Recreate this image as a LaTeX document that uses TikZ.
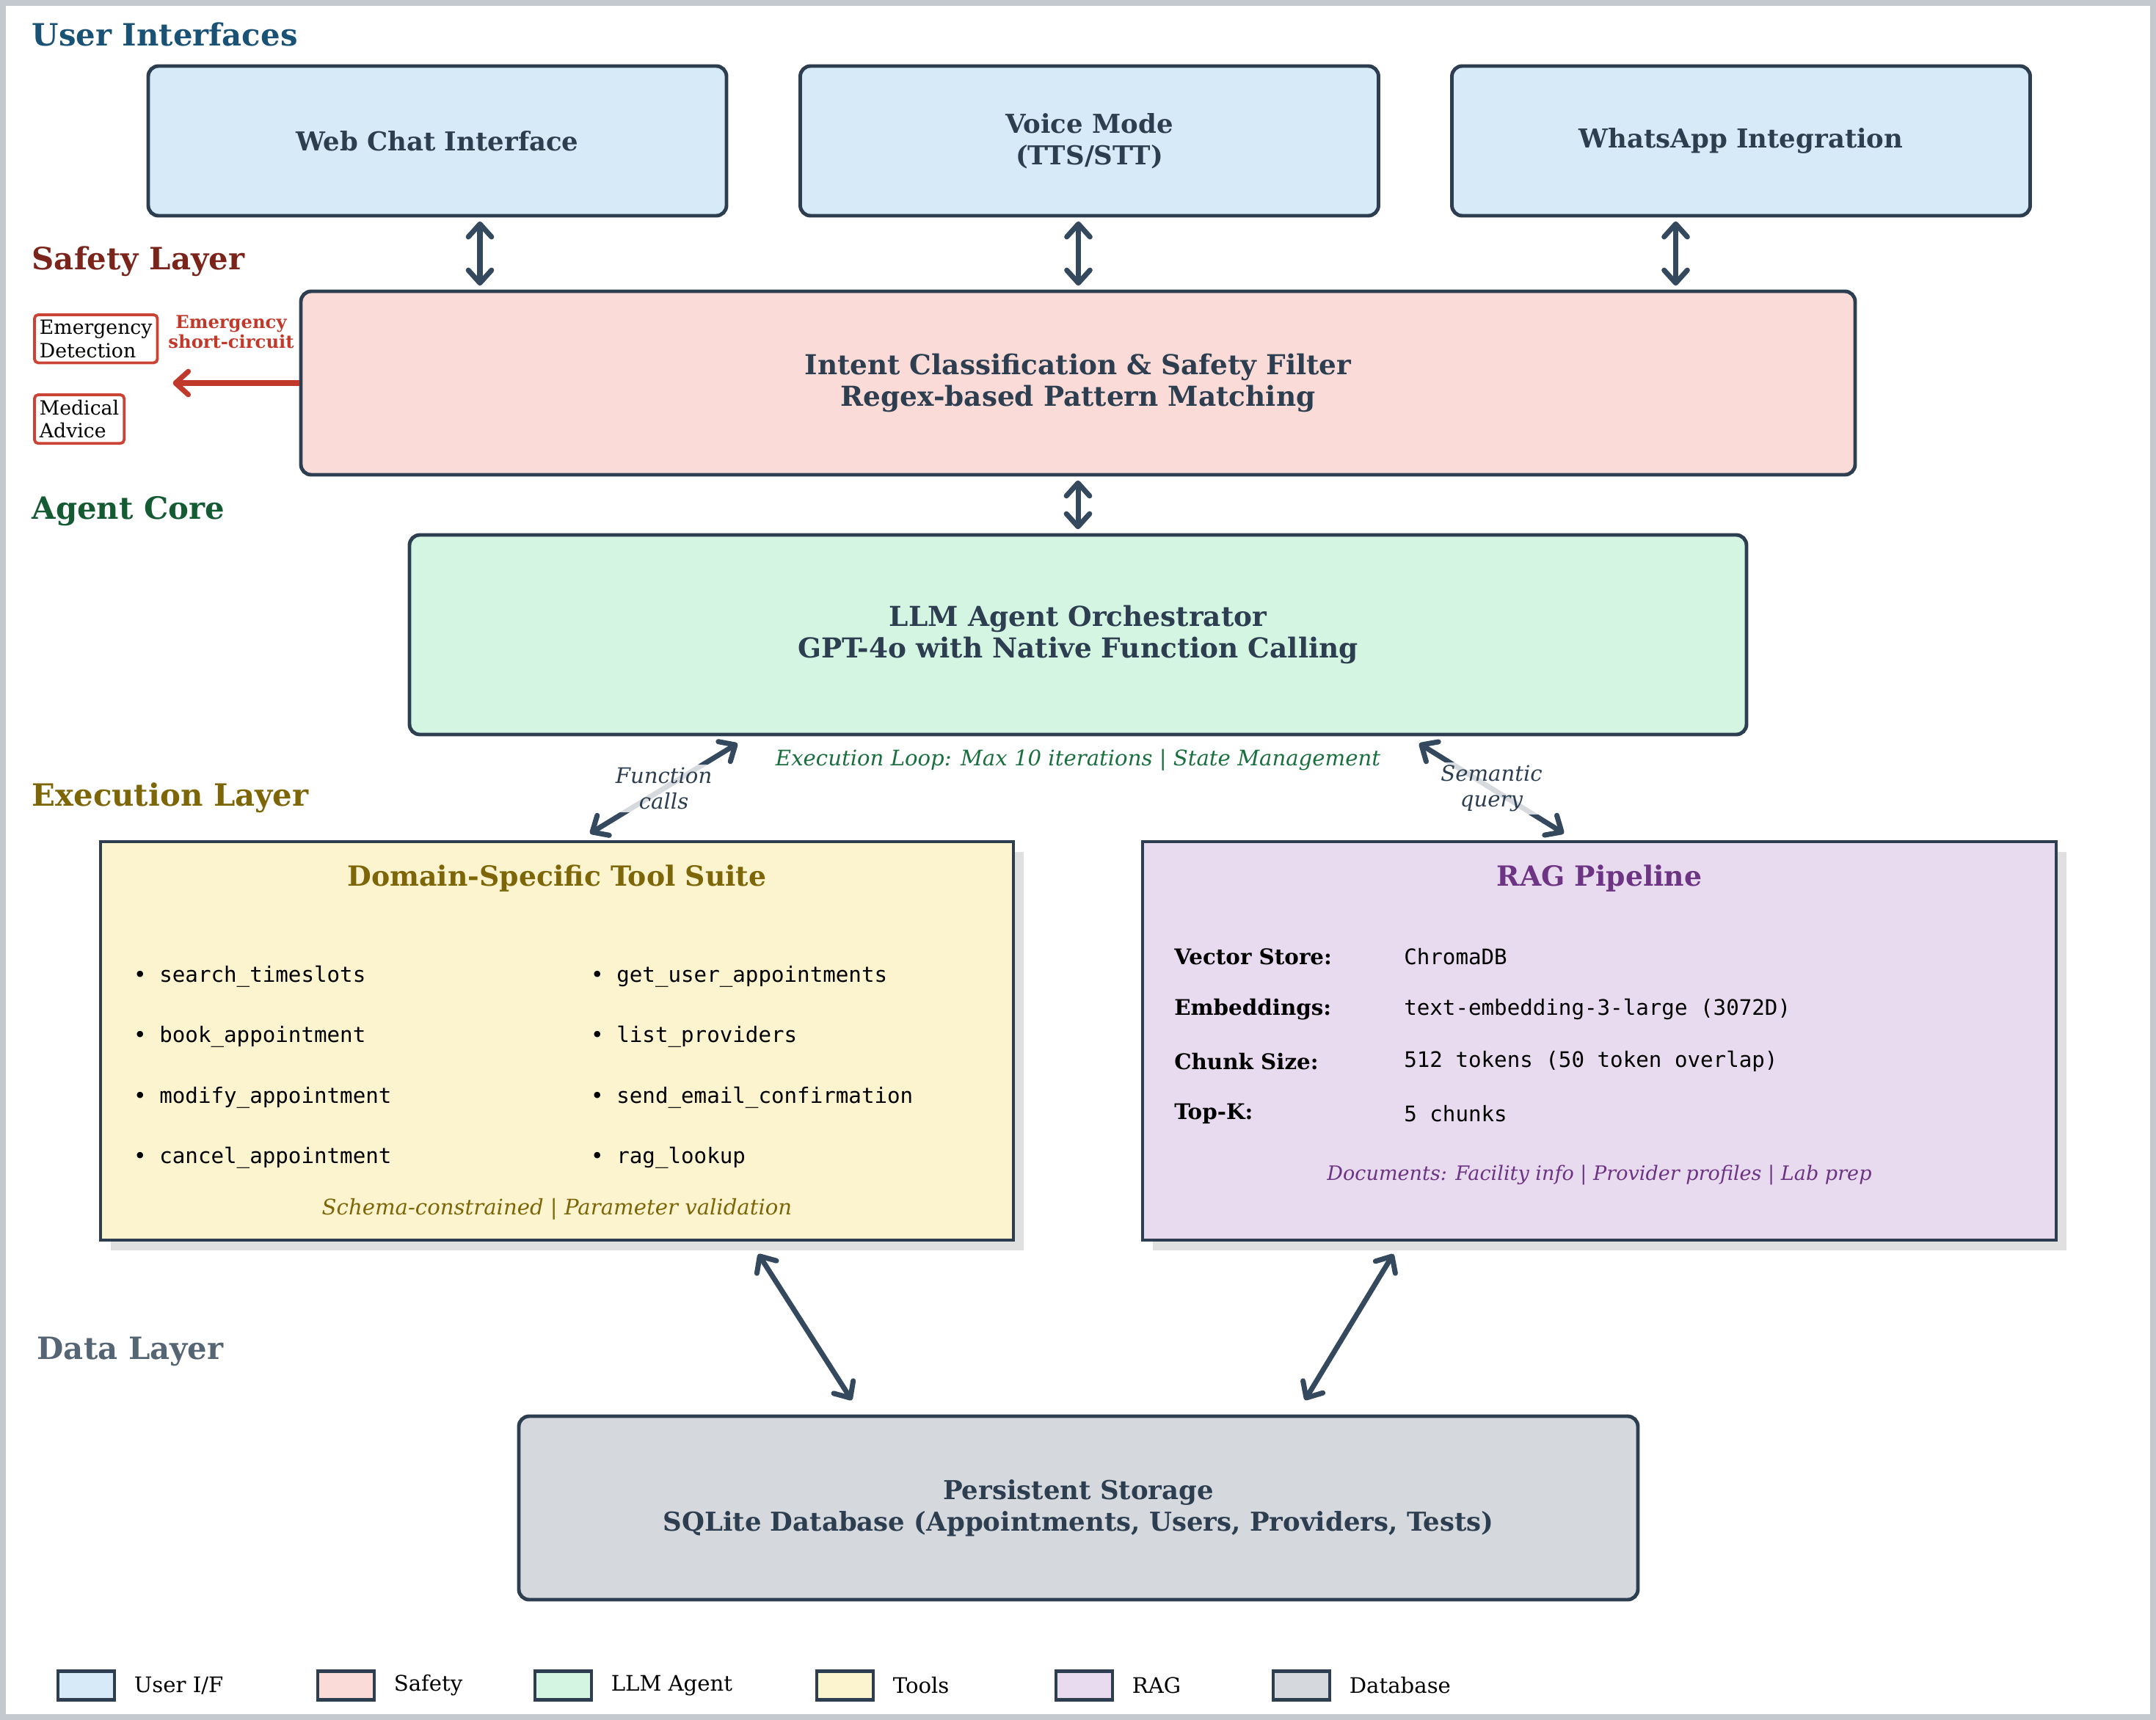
\documentclass[tikz,border=0pt]{standalone}
\usepackage{fontspec}
\setmainfont{DejaVu Serif}
\setmonofont{DejaVu Sans Mono}
\usepackage{xcolor}
\usepackage{tikz}
\usetikzlibrary{calc, positioning, arrows.meta, shadows}

\definecolor{edge}{HTML}{2C3E50}
\definecolor{ink}{HTML}{2C3E50}
\definecolor{arrowc}{HTML}{34495E}
\definecolor{frame}{HTML}{C3C9CF}
\definecolor{alert}{HTML}{C0392B}
\definecolor{alertbox}{HTML}{CB4335}
\definecolor{uifill}{HTML}{D6EAF8}
\definecolor{safefill}{HTML}{FADBD8}
\definecolor{agentfill}{HTML}{D5F5E3}
\definecolor{toolfill}{HTML}{FCF3CF}
\definecolor{ragfill}{HTML}{E8DAEF}
\definecolor{dbfill}{HTML}{D5D8DC}
\definecolor{uititle}{HTML}{1A5276}
\definecolor{safetitle}{HTML}{7B241C}
\definecolor{agenttitle}{HTML}{145A32}
\definecolor{looptext}{HTML}{196F3D}
\definecolor{tooltitle}{HTML}{7D6608}
\definecolor{ragtitle}{HTML}{6C3483}
\definecolor{datatitle}{HTML}{566573}

\begin{document}
\begin{tikzpicture}[
    >={Straight Barb[length=5pt,width=9pt,round]},
    box/.style={draw=edge, line width=1.4pt, rounded corners=4pt, align=center,
        text=ink, font=\fontsize{10.1}{12.3}\selectfont\bfseries},
    bigbox/.style={box, font=\fontsize{10.65}{12.3}\selectfont\bfseries},
    panel/.style={draw=edge, line width=1.4pt,
        drop shadow={shadow xshift=0.14cm, shadow yshift=-0.14cm, fill=black!12, opacity=1}},
    head/.style={font=\fontsize{10.75}{12.5}\selectfont\bfseries},
    layer/.style={anchor=west, inner sep=0pt, font=\fontsize{11.9}{14}\selectfont\bfseries},
    link/.style={<->, draw=arrowc, line width=2pt, shorten <=1.5pt, shorten >=1.5pt},
    flag/.style={draw=alertbox, line width=1.1pt, rounded corners=1.5pt, fill=white,
        anchor=north west, align=left, inner sep=2pt, font=\fontsize{7.6}{9}\selectfont},
    item/.style={anchor=west, inner sep=0pt, font=\fontsize{8.3}{10}\selectfont\ttfamily},
    key/.style={anchor=west, inner sep=0pt, font=\fontsize{8.35}{10}\selectfont\bfseries},
    note/.style={font=\fontsize{8.3}{10}\selectfont\itshape},
    tag/.style={note, align=center, text=ink, fill=white, fill opacity=0.8,
        text opacity=1, inner sep=1pt},
    legbox/.style={draw=edge, line width=1.2pt, minimum width=0.77cm,
        minimum height=0.39cm, inner sep=0pt},
    legtext/.style={inner sep=0pt, font=\fontsize{8.3}{10}\selectfont},
]
    % Khung ngoài
    \useasboundingbox (0,0) rectangle (29.38,-23.44);
    \draw[frame, line width=2.3pt] (0.04,-0.04) rectangle (29.34,-23.40);

    % Tên các tầng
    \node[layer, text=uititle] (lUI) at (0.43,-0.47) {User Interfaces};
    \node[layer, text=safetitle] (lSafe) at (0.43,-3.56) {Safety Layer};
    \node[layer, text=agenttitle] (lAgent) at (0.43,-6.97) {Agent Core};
    \node[layer, text=tooltitle] (lExec) at (0.43,-10.87) {Execution Layer};
    \node[layer, text=datatitle] (lData) at (0.50,-18.42) {Data Layer};

    % Giao diện người dùng
    \node[box, fill=uifill, minimum width=7.88cm, minimum height=2.04cm] (web) at (5.96,-1.92) {Web Chat Interface};
    \node[box, fill=uifill, minimum width=7.88cm, minimum height=2.04cm] (voice) at (14.845,-1.92) {Voice Mode\\(TTS/STT)};
    \node[box, fill=uifill, minimum width=7.88cm, minimum height=2.04cm] (whatsapp) at (23.725,-1.92) {WhatsApp Integration};

    % Tầng an toàn
    \node[bigbox, fill=safefill, minimum width=21.18cm, minimum height=2.50cm] (safety) at (14.69,-5.22)
        {Intent Classification \& Safety Filter\\Regex-based Pattern Matching};
    \node[flag] (emerg) at (0.45,-4.27) {Emergency\\Detection};
    \node[flag] (medical) at (0.45,-5.36) {Medical\\Advice};
    \draw[->, alert, line width=2pt] (safety.west) -- ++(-1.72,0) coordinate (escape);
    \node[align=center, text=alert, inner sep=0pt, font=\fontsize{6.9}{7.6}\selectfont\bfseries] (short) at (3.15,-4.52)
        {Emergency\\short-circuit};

    \draw[link] ([xshift=5.8mm]web.south) -- ([xshift=5.8mm]web.south |- safety.north);
    \draw[link] ([xshift=-1.5mm]voice.south) -- ([xshift=-1.5mm]voice.south |- safety.north);
    \draw[link] ([xshift=-8.9mm]whatsapp.south) -- ([xshift=-8.9mm]whatsapp.south |- safety.north);

    % Lõi tác tử
    \node[bigbox, fill=agentfill, minimum width=18.22cm, minimum height=2.72cm] (agent) at (14.69,-8.65)
        {LLM Agent Orchestrator\\GPT-4o with Native Function Calling};
    \draw[link] (safety.south) -- (agent.north);
    \node[note, text=looptext] (loop) at ($(agent.south)+(0,-0.32)$)
        {Execution Loop: Max 10 iterations | State Management};

    % Tầng thực thi: công cụ
    \node[panel, fill=toolfill, minimum width=12.44cm, minimum height=5.43cm] (tools) at (7.59,-14.185) {};
    \node[head, text=tooltitle] (toolsHead) at ($(tools.north)+(0,-0.53)$)
        {Domain-Specific Tool Suite};
    \node[item] (t1) at ($(tools.north west)+(0.47,-1.86)$) {• search\_timeslots};
    \node[item] (t2) at ($(tools.north west)+(0.47,-2.68)$) {• book\_appointment};
    \node[item] (t3) at ($(tools.north west)+(0.47,-3.51)$) {• modify\_appointment};
    \node[item] (t4) at ($(tools.north west)+(0.47,-4.33)$) {• cancel\_appointment};
    \node[item] (t5) at ($(tools.north west)+(6.70,-1.86)$) {• get\_user\_appointments};
    \node[item] (t6) at ($(tools.north west)+(6.70,-2.68)$) {• list\_providers};
    \node[item] (t7) at ($(tools.north west)+(6.70,-3.51)$) {• send\_email\_confirmation};
    \node[item] (t8) at ($(tools.north west)+(6.70,-4.33)$) {• rag\_lookup};
    \node[note, text=tooltitle] (toolsFoot) at ($(tools.south)+(0,0.45)$)
        {Schema-constrained | Parameter validation};

    % Tầng thực thi: RAG
    \node[panel, fill=ragfill, minimum width=12.45cm, minimum height=5.43cm] (rag) at (21.795,-14.185) {};
    \node[head, text=ragtitle] (ragHead) at ($(rag.north)+(0,-0.53)$)
        {RAG Pipeline};
    \node[key] (k1) at ($(rag.north west)+(0.45,-1.59)$) {Vector Store:};
    \node[key] (k2) at ($(rag.north west)+(0.45,-2.31)$) {Embeddings:};
    \node[key] (k3) at ($(rag.north west)+(0.45,-3.02)$) {Chunk Size:};
    \node[key] (k4) at ($(rag.north west)+(0.45,-3.73)$) {Top-K:};
    \node[item] (v1) at ($(rag.north west)+(3.58,-1.59)$) {ChromaDB};
    \node[item] (v2) at ($(rag.north west)+(3.58,-2.31)$) {text-embedding-3-large (3072D)};
    \node[item] (v3) at ($(rag.north west)+(3.58,-3.02)$) {512 tokens (50 token overlap)};
    \node[item] (v4) at ($(rag.north west)+(3.58,-3.73)$) {5 chunks};
    \node[note, text=ragtitle, font=\fontsize{7.7}{9}\selectfont\itshape] (ragFoot) at ($(rag.south)+(0,0.91)$)
        {Documents: Facility info | Provider profiles | Lab prep};

    % Mũi tên tác tử <-> tầng thực thi
    \draw[link] ($(agent.south west)+(4.54,-0.07)$) -- ($(tools.north west)+(6.65,0.06)$)
        node[midway, tag] {Function\\calls};
    \draw[link] ($(agent.south east)+(-4.53,-0.07)$) -- ($(rag.north west)+(5.81,0.06)$)
        node[midway, tag] {Semantic\\query};

    % Tầng dữ liệu
    \node[box, fill=dbfill, minimum width=15.25cm, minimum height=2.50cm] (db) at (14.695,-20.55)
        {Persistent Storage\\SQLite Database (Appointments, Users, Providers, Tests)};
    \draw[link] ($(tools.south west)+(8.96,-0.12)$) -- ($(db.north west)+(4.59,0.15)$);
    \draw[link] ($(rag.south west)+(3.47,-0.12)$) -- ($(db.north east)+(-4.59,0.15)$);

    % Chú giải
    \node[legbox, fill=uifill] (lg1) at (1.175,-22.97) {};
    \node[legtext, right=0.24 of lg1] (lt1) {User I/F};
    \node[legbox, fill=safefill] (lg2) at (4.715,-22.97) {};
    \node[legtext, right=0.24 of lg2] (lt2) {Safety};
    \node[legbox, fill=agentfill] (lg3) at (7.675,-22.97) {};
    \node[legtext, right=0.24 of lg3] (lt3) {LLM Agent};
    \node[legbox, fill=toolfill] (lg4) at (11.515,-22.97) {};
    \node[legtext, right=0.24 of lg4] (lt4) {Tools};
    \node[legbox, fill=ragfill] (lg5) at (14.775,-22.97) {};
    \node[legtext, right=0.24 of lg5] (lt5) {RAG};
    \node[legbox, fill=dbfill] (lg6) at (17.735,-22.97) {};
    \node[legtext, right=0.24 of lg6] (lt6) {Database};
\end{tikzpicture}
\end{document}
